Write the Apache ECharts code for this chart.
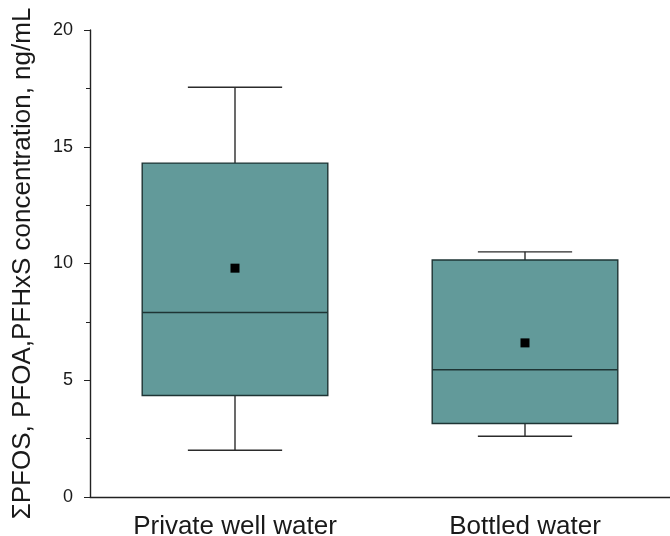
<!DOCTYPE html>
<html><head><meta charset="utf-8">
<script src="https://cdn.jsdelivr.net/npm/echarts@6/dist/echarts.min.js"></script>
<style>html,body{margin:0;padding:0;background:#fff}#c{width:670px;height:536px}</style>
</head><body><div id="c"></div>
<script>
const categories = ['Private well water', 'Bottled water'];
const whiskerLow = [2.0, 2.6];
const q1 = [4.35, 3.15];
const median = [7.9, 5.45];
const q3 = [14.3, 10.15];
const whiskerHigh = [17.55, 10.5];
const mean = [9.8, 6.6];
const yTicks = [0, 5, 10, 15, 20];

const data = categories.map((c, i) => [i, whiskerLow[i], q1[i], median[i], q3[i], whiskerHigh[i], mean[i]]);
const ink = '#222';
const font = 'Liberation Sans, Arial, sans-serif';
const chart = echarts.init(document.getElementById('c'), null, {renderer: 'canvas'});
chart.setOption({
  animation: false,
  grid: {left: 90, right: 0, top: 30, bottom: 39, containLabel: false, outerBoundsMode: 'none'},
  xAxis: {
    type: 'category', data: categories,
    axisLine: {lineStyle: {color: ink, width: 1.4}},
    axisTick: {alignWithLabel: true, length: 6, lineStyle: {color: ink}},
    axisLabel: {color: '#1a1a1a', fontSize: 26, margin: 17, fontFamily: font},
    splitLine: {show: false}
  },
  yAxis: {
    type: 'value', min: yTicks[0], max: yTicks[yTicks.length - 1], interval: 5,
    name: 'ΣPFOS, PFOA,PFHxS concentration, ng/mL', nameLocation: 'middle', nameGap: 54,
    nameTextStyle: {color: '#1a1a1a', fontSize: 26, fontFamily: font},
    axisLine: {show: true, lineStyle: {color: ink, width: 1.4}},
    axisTick: {show: true, length: 6, lineStyle: {color: ink}},
    minorTick: {show: true, splitNumber: 2, length: 4, lineStyle: {color: ink}},
    axisLabel: {color: '#1a1a1a', fontSize: 18, margin: 17, fontFamily: font},
    splitLine: {show: false}
  },
  series: [{
    type: 'custom',
    data: data,
    encode: {x: 0, y: [1, 2, 3, 4, 5]},
    renderItem: function (params, api) {
      const x = api.value(0);
      const bw = api.size([1, 0])[0] * 0.64;
      const cw = api.size([1, 0])[0] * 0.325;
      const pLow = api.coord([x, api.value(1)]);
      const pQ1 = api.coord([x, api.value(2)]);
      const pMed = api.coord([x, api.value(3)]);
      const pQ3 = api.coord([x, api.value(4)]);
      const pHigh = api.coord([x, api.value(5)]);
      const pMean = api.coord([x, api.value(6)]);
      const cx = pMed[0];
      const ls = {stroke: '#2b2b2b', lineWidth: 1.4};
      return {type: 'group', children: [
        {type: 'line', shape: {x1: cx, y1: pHigh[1], x2: cx, y2: pQ3[1]}, style: ls},
        {type: 'line', shape: {x1: cx, y1: pLow[1], x2: cx, y2: pQ1[1]}, style: ls},
        {type: 'line', shape: {x1: cx - cw / 2, y1: pHigh[1], x2: cx + cw / 2, y2: pHigh[1]}, style: ls},
        {type: 'line', shape: {x1: cx - cw / 2, y1: pLow[1], x2: cx + cw / 2, y2: pLow[1]}, style: ls},
        {type: 'rect', shape: {x: cx - bw / 2, y: pQ3[1], width: bw, height: pQ1[1] - pQ3[1]},
          style: {fill: '#629a9a', stroke: '#1e3434', lineWidth: 1.4}},
        {type: 'line', shape: {x1: cx - bw / 2, y1: pMed[1], x2: cx + bw / 2, y2: pMed[1]}, style: {stroke: '#1e3434', lineWidth: 1.4}},
        {type: 'rect', shape: {x: pMean[0] - 4.5, y: pMean[1] - 4.5, width: 9, height: 9}, style: {fill: '#000'}}
      ]};
    }
  }]
});
</script></body></html>
